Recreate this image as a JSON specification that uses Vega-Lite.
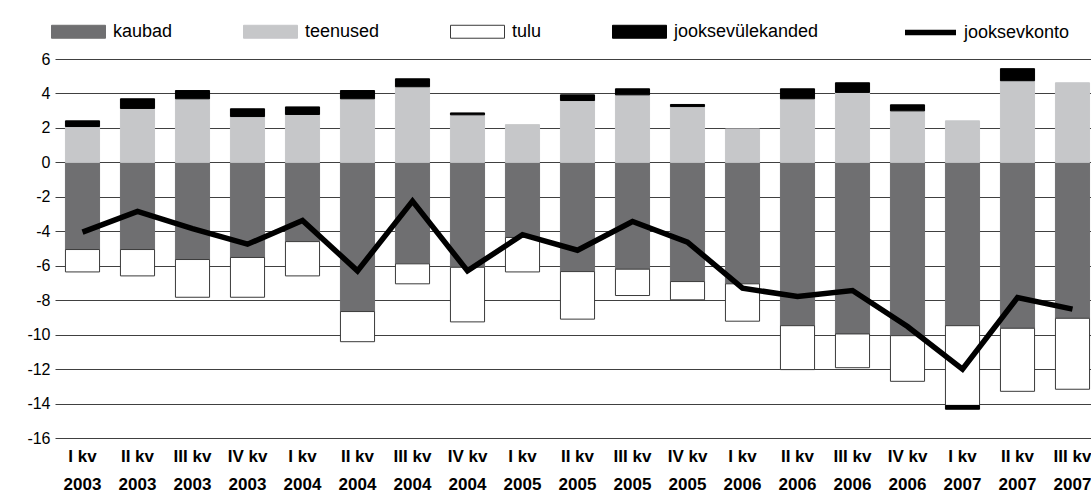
{
  "$schema": "https://vega.github.io/schema/vega-lite/v6.json",
  "width": 1045,
  "height": 379,
  "autosize": {"type": "none"},
  "padding": {"left": 55, "top": 59, "right": 0, "bottom": 64},
  "background": "white",
  "config": {"font": "Liberation Sans", "view": {"stroke": null}},
  "datasets": {
    "komponendid": [
      {"kvartal": "I kv 2003", "komponent": "kaubad", "vaartus": -5.06, "jrk": 1},
      {"kvartal": "I kv 2003", "komponent": "teenused", "vaartus": 2.08, "jrk": 2},
      {"kvartal": "I kv 2003", "komponent": "tulu", "vaartus": -1.30, "jrk": 3},
      {"kvartal": "I kv 2003", "komponent": "jooksevülekanded", "vaartus": 0.33, "jrk": 4},
      {"kvartal": "II kv 2003", "komponent": "kaubad", "vaartus": -5.06, "jrk": 1},
      {"kvartal": "II kv 2003", "komponent": "teenused", "vaartus": 3.13, "jrk": 2},
      {"kvartal": "II kv 2003", "komponent": "tulu", "vaartus": -1.53, "jrk": 3},
      {"kvartal": "II kv 2003", "komponent": "jooksevülekanded", "vaartus": 0.56, "jrk": 4},
      {"kvartal": "III kv 2003", "komponent": "kaubad", "vaartus": -5.64, "jrk": 1},
      {"kvartal": "III kv 2003", "komponent": "teenused", "vaartus": 3.69, "jrk": 2},
      {"kvartal": "III kv 2003", "komponent": "tulu", "vaartus": -2.19, "jrk": 3},
      {"kvartal": "III kv 2003", "komponent": "jooksevülekanded", "vaartus": 0.48, "jrk": 4},
      {"kvartal": "IV kv 2003", "komponent": "kaubad", "vaartus": -5.52, "jrk": 1},
      {"kvartal": "IV kv 2003", "komponent": "teenused", "vaartus": 2.66, "jrk": 2},
      {"kvartal": "IV kv 2003", "komponent": "tulu", "vaartus": -2.31, "jrk": 3},
      {"kvartal": "IV kv 2003", "komponent": "jooksevülekanded", "vaartus": 0.45, "jrk": 4},
      {"kvartal": "I kv 2004", "komponent": "kaubad", "vaartus": -4.60, "jrk": 1},
      {"kvartal": "I kv 2004", "komponent": "teenused", "vaartus": 2.78, "jrk": 2},
      {"kvartal": "I kv 2004", "komponent": "tulu", "vaartus": -1.99, "jrk": 3},
      {"kvartal": "I kv 2004", "komponent": "jooksevülekanded", "vaartus": 0.44, "jrk": 4},
      {"kvartal": "II kv 2004", "komponent": "kaubad", "vaartus": -8.66, "jrk": 1},
      {"kvartal": "II kv 2004", "komponent": "teenused", "vaartus": 3.69, "jrk": 2},
      {"kvartal": "II kv 2004", "komponent": "tulu", "vaartus": -1.75, "jrk": 3},
      {"kvartal": "II kv 2004", "komponent": "jooksevülekanded", "vaartus": 0.48, "jrk": 4},
      {"kvartal": "III kv 2004", "komponent": "kaubad", "vaartus": -5.89, "jrk": 1},
      {"kvartal": "III kv 2004", "komponent": "teenused", "vaartus": 4.39, "jrk": 2},
      {"kvartal": "III kv 2004", "komponent": "tulu", "vaartus": -1.16, "jrk": 3},
      {"kvartal": "III kv 2004", "komponent": "jooksevülekanded", "vaartus": 0.46, "jrk": 4},
      {"kvartal": "IV kv 2004", "komponent": "kaubad", "vaartus": -6.09, "jrk": 1},
      {"kvartal": "IV kv 2004", "komponent": "teenused", "vaartus": 2.76, "jrk": 2},
      {"kvartal": "IV kv 2004", "komponent": "tulu", "vaartus": -3.17, "jrk": 3},
      {"kvartal": "IV kv 2004", "komponent": "jooksevülekanded", "vaartus": 0.11, "jrk": 4},
      {"kvartal": "I kv 2005", "komponent": "kaubad", "vaartus": -4.36, "jrk": 1},
      {"kvartal": "I kv 2005", "komponent": "teenused", "vaartus": 2.19, "jrk": 2},
      {"kvartal": "I kv 2005", "komponent": "tulu", "vaartus": -2.00, "jrk": 3},
      {"kvartal": "II kv 2005", "komponent": "kaubad", "vaartus": -6.34, "jrk": 1},
      {"kvartal": "II kv 2005", "komponent": "teenused", "vaartus": 3.59, "jrk": 2},
      {"kvartal": "II kv 2005", "komponent": "tulu", "vaartus": -2.76, "jrk": 3},
      {"kvartal": "II kv 2005", "komponent": "jooksevülekanded", "vaartus": 0.33, "jrk": 4},
      {"kvartal": "III kv 2005", "komponent": "kaubad", "vaartus": -6.20, "jrk": 1},
      {"kvartal": "III kv 2005", "komponent": "teenused", "vaartus": 3.92, "jrk": 2},
      {"kvartal": "III kv 2005", "komponent": "tulu", "vaartus": -1.53, "jrk": 3},
      {"kvartal": "III kv 2005", "komponent": "jooksevülekanded", "vaartus": 0.35, "jrk": 4},
      {"kvartal": "IV kv 2005", "komponent": "kaubad", "vaartus": -6.92, "jrk": 1},
      {"kvartal": "IV kv 2005", "komponent": "teenused", "vaartus": 3.24, "jrk": 2},
      {"kvartal": "IV kv 2005", "komponent": "tulu", "vaartus": -1.06, "jrk": 3},
      {"kvartal": "IV kv 2005", "komponent": "jooksevülekanded", "vaartus": 0.12, "jrk": 4},
      {"kvartal": "I kv 2006", "komponent": "kaubad", "vaartus": -7.05, "jrk": 1},
      {"kvartal": "I kv 2006", "komponent": "teenused", "vaartus": 1.94, "jrk": 2},
      {"kvartal": "I kv 2006", "komponent": "tulu", "vaartus": -2.17, "jrk": 3},
      {"kvartal": "II kv 2006", "komponent": "kaubad", "vaartus": -9.48, "jrk": 1},
      {"kvartal": "II kv 2006", "komponent": "teenused", "vaartus": 3.69, "jrk": 2},
      {"kvartal": "II kv 2006", "komponent": "tulu", "vaartus": -2.55, "jrk": 3},
      {"kvartal": "II kv 2006", "komponent": "jooksevülekanded", "vaartus": 0.58, "jrk": 4},
      {"kvartal": "III kv 2006", "komponent": "kaubad", "vaartus": -9.96, "jrk": 1},
      {"kvartal": "III kv 2006", "komponent": "teenused", "vaartus": 4.06, "jrk": 2},
      {"kvartal": "III kv 2006", "komponent": "tulu", "vaartus": -1.96, "jrk": 3},
      {"kvartal": "III kv 2006", "komponent": "jooksevülekanded", "vaartus": 0.56, "jrk": 4},
      {"kvartal": "IV kv 2006", "komponent": "kaubad", "vaartus": -10.06, "jrk": 1},
      {"kvartal": "IV kv 2006", "komponent": "teenused", "vaartus": 2.99, "jrk": 2},
      {"kvartal": "IV kv 2006", "komponent": "tulu", "vaartus": -2.65, "jrk": 3},
      {"kvartal": "IV kv 2006", "komponent": "jooksevülekanded", "vaartus": 0.35, "jrk": 4},
      {"kvartal": "I kv 2007", "komponent": "kaubad", "vaartus": -9.48, "jrk": 1},
      {"kvartal": "I kv 2007", "komponent": "teenused", "vaartus": 2.41, "jrk": 2},
      {"kvartal": "I kv 2007", "komponent": "tulu", "vaartus": -4.63, "jrk": 3},
      {"kvartal": "I kv 2007", "komponent": "jooksevülekanded", "vaartus": -0.22, "jrk": 4},
      {"kvartal": "II kv 2007", "komponent": "kaubad", "vaartus": -9.63, "jrk": 1},
      {"kvartal": "II kv 2007", "komponent": "teenused", "vaartus": 4.74, "jrk": 2},
      {"kvartal": "II kv 2007", "komponent": "tulu", "vaartus": -3.66, "jrk": 3},
      {"kvartal": "II kv 2007", "komponent": "jooksevülekanded", "vaartus": 0.70, "jrk": 4},
      {"kvartal": "III kv 2007", "komponent": "kaubad", "vaartus": -9.05, "jrk": 1},
      {"kvartal": "III kv 2007", "komponent": "teenused", "vaartus": 4.62, "jrk": 2},
      {"kvartal": "III kv 2007", "komponent": "tulu", "vaartus": -4.12, "jrk": 3}
    ],
    "konto": [
      {"kvartal": "I kv 2003", "jooksevkonto": -4.05},
      {"kvartal": "II kv 2003", "jooksevkonto": -2.85},
      {"kvartal": "III kv 2003", "jooksevkonto": -3.85},
      {"kvartal": "IV kv 2003", "jooksevkonto": -4.75},
      {"kvartal": "I kv 2004", "jooksevkonto": -3.37},
      {"kvartal": "II kv 2004", "jooksevkonto": -6.3},
      {"kvartal": "III kv 2004", "jooksevkonto": -2.25},
      {"kvartal": "IV kv 2004", "jooksevkonto": -6.3},
      {"kvartal": "I kv 2005", "jooksevkonto": -4.2},
      {"kvartal": "II kv 2005", "jooksevkonto": -5.1},
      {"kvartal": "III kv 2005", "jooksevkonto": -3.43},
      {"kvartal": "IV kv 2005", "jooksevkonto": -4.63},
      {"kvartal": "I kv 2006", "jooksevkonto": -7.3},
      {"kvartal": "II kv 2006", "jooksevkonto": -7.79},
      {"kvartal": "III kv 2006", "jooksevkonto": -7.44},
      {"kvartal": "IV kv 2006", "jooksevkonto": -9.53},
      {"kvartal": "I kv 2007", "jooksevkonto": -12.0},
      {"kvartal": "II kv 2007", "jooksevkonto": -7.85},
      {"kvartal": "III kv 2007", "jooksevkonto": -8.52}
    ]
  },
  "layer": [
    {
      "data": {"name": "komponendid"},
      "mark": {"type": "bar", "strokeWidth": 1},
      "encoding": {
        "x": {
          "field": "kvartal", "type": "nominal", "sort": null,
          "scale": {"paddingInner": 0.38, "paddingOuter": 0.19},
          "axis": {
            "title": null, "domain": false, "ticks": false, "grid": false,
            "labelAngle": 0, "labelFontSize": 17, "labelFontWeight": "bold",
            "labelColor": "#000000", "labelLineHeight": 28, "labelPadding": 10,
            "labelBaseline": "top", "labelOverlap": false, "labelLimit": 200,
            "labelExpr": "[substring(datum.label, 0, length(datum.label) - 5), substring(datum.label, length(datum.label) - 4)]"
          }
        },
        "y": {
          "field": "vaartus", "type": "quantitative", "stack": "zero",
          "scale": {"domain": [-16, 6], "nice": false, "zero": false},
          "axis": {
            "title": null, "domain": false, "ticks": false, "grid": true,
            "gridColor": "#404040", "gridWidth": 1, "gridOpacity": 1,
            "values": [-16, -14, -12, -10, -8, -6, -4, -2, 0, 2, 4, 6],
            "labelOverlap": false, "labelExpr": "'' + datum.value",
            "labelFontSize": 16, "labelColor": "#000000", "labelPadding": 5
          }
        },
        "fill": {
          "field": "komponent", "type": "nominal",
          "scale": {"domain": ["kaubad", "teenused", "tulu", "jooksevülekanded"], "range": ["#6f6f71", "#c6c7c9", "#ffffff", "#000000"]},
          "legend": {
            "orient": "none", "legendX": -4, "legendY": -55, "direction": "horizontal", "title": null,
            "symbolType": "M-1,-0.24H1V0.24H-1Z", "symbolSize": 2916, "symbolStrokeWidth": 1,
            "labelFontSize": 18, "labelColor": "#000000", "labelOffset": 7, "columnPadding": 68, "labelLimit": 300
          }
        },
        "stroke": {
          "field": "komponent", "type": "nominal",
          "scale": {"domain": ["kaubad", "teenused", "tulu", "jooksevülekanded"], "range": ["#6f6f71", "#c6c7c9", "#3a3a3a", "#000000"]},
          "legend": {
            "orient": "none", "legendX": -4, "legendY": -55, "direction": "horizontal", "title": null,
            "symbolType": "M-1,-0.24H1V0.24H-1Z", "symbolSize": 2916, "symbolStrokeWidth": 1,
            "labelFontSize": 18, "labelColor": "#000000", "labelOffset": 7, "columnPadding": 68, "labelLimit": 300
          }
        },
        "order": {"field": "jrk", "type": "quantitative"}
      }
    },
    {
      "mark": {"type": "rule", "color": "#000000", "strokeWidth": 1.5},
      "encoding": {
        "y": {
          "datum": 0, "type": "quantitative",
          "axis": {
            "title": null, "domain": false, "ticks": false, "grid": true,
            "gridColor": "#404040", "gridWidth": 1, "gridOpacity": 1,
            "values": [-16, -14, -12, -10, -8, -6, -4, -2, 0, 2, 4, 6],
            "labelOverlap": false, "labelExpr": "'' + datum.value",
            "labelFontSize": 16, "labelColor": "#000000", "labelPadding": 5
          }
        }
      }
    },
    {
      "data": {"name": "konto"},
      "mark": {"type": "line", "strokeWidth": 5.5, "strokeJoin": "miter"},
      "encoding": {
        "x": {
          "field": "kvartal", "type": "nominal", "sort": null,
          "axis": {
            "title": null, "domain": false, "ticks": false, "grid": false,
            "labelAngle": 0, "labelFontSize": 17, "labelFontWeight": "bold",
            "labelColor": "#000000", "labelLineHeight": 28, "labelPadding": 10,
            "labelBaseline": "top", "labelOverlap": false, "labelLimit": 200,
            "labelExpr": "[substring(datum.label, 0, length(datum.label) - 5), substring(datum.label, length(datum.label) - 4)]"
          }
        },
        "y": {
          "field": "jooksevkonto", "type": "quantitative",
          "axis": {
            "title": null, "domain": false, "ticks": false, "grid": true,
            "gridColor": "#404040", "gridWidth": 1, "gridOpacity": 1,
            "values": [-16, -14, -12, -10, -8, -6, -4, -2, 0, 2, 4, 6],
            "labelOverlap": false, "labelExpr": "'' + datum.value",
            "labelFontSize": 16, "labelColor": "#000000", "labelPadding": 5
          }
        },
        "color": {
          "datum": "jooksevkonto",
          "scale": {"range": ["#000000"]},
          "legend": {
            "orient": "none", "legendX": 847, "legendY": -55, "title": null,
            "symbolType": "stroke", "symbolSize": 2601, "symbolStrokeWidth": 5.5,
            "labelFontSize": 18, "labelColor": "#000000", "labelOffset": 5
          }
        }
      }
    }
  ]
}
